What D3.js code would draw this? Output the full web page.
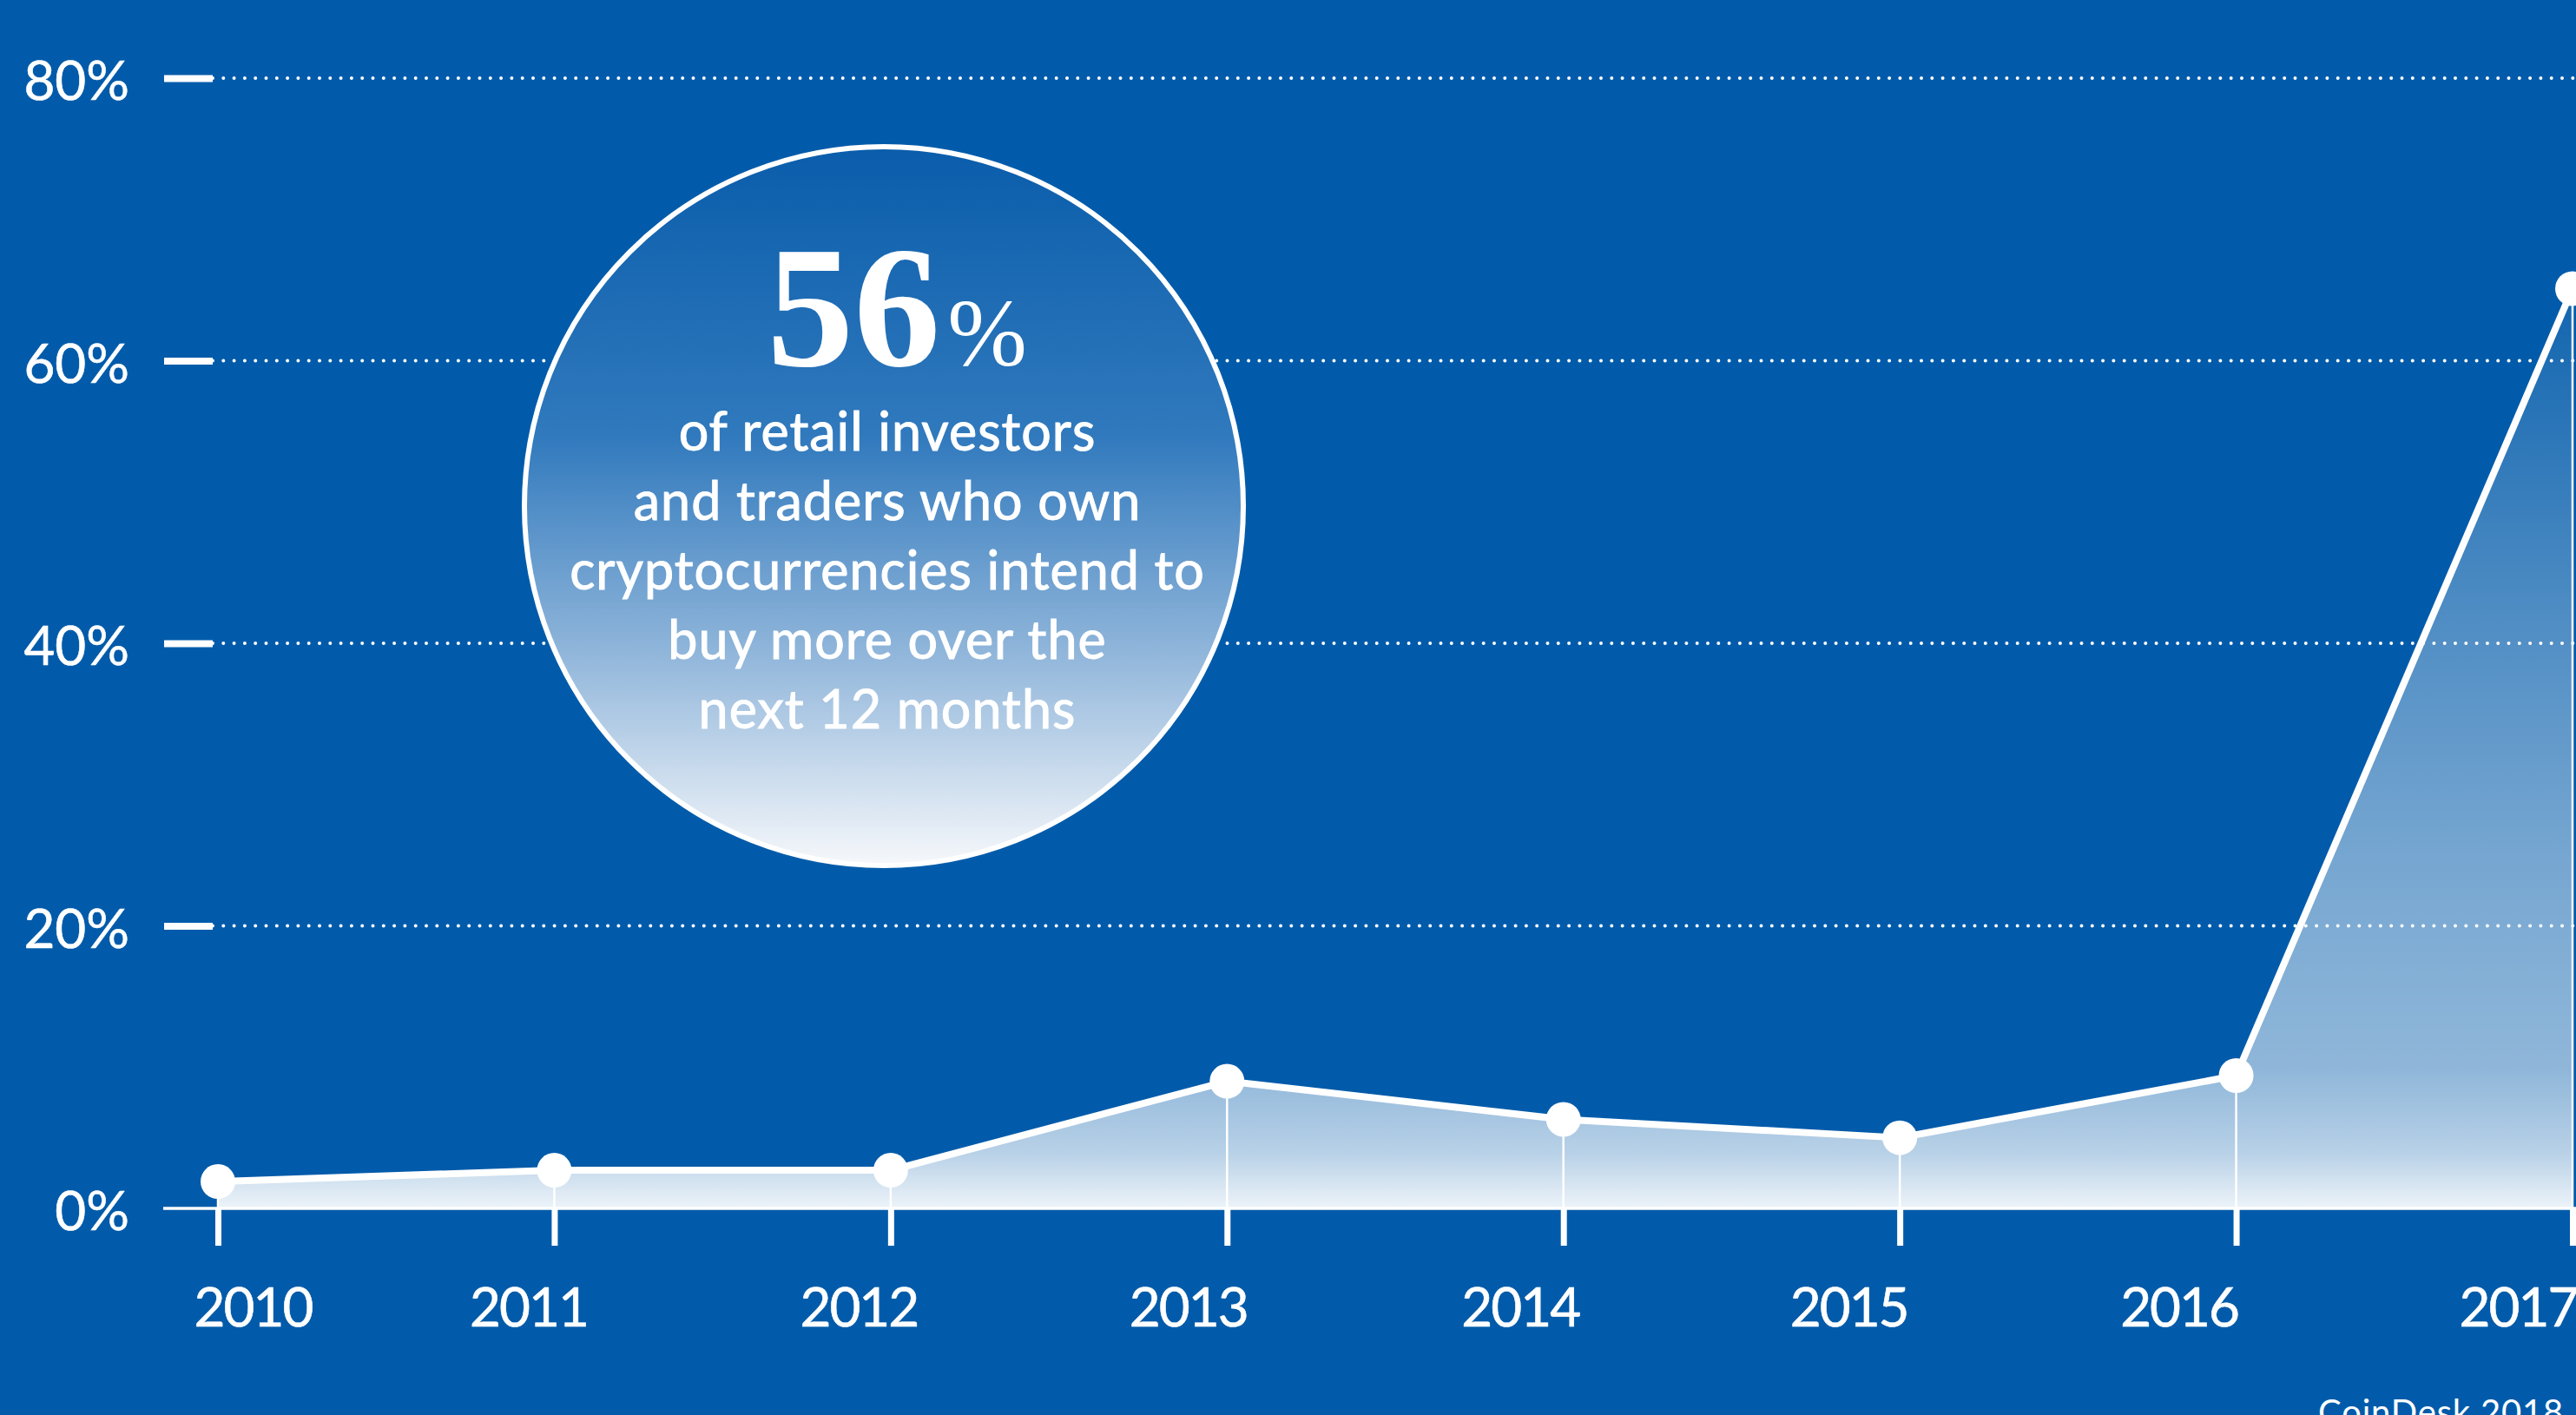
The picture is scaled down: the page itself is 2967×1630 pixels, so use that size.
<!DOCTYPE html>
<html>
<head>
<meta charset="utf-8">
<script src="https://cdn.jsdelivr.net/npm/d3@7"></script>
<style>
    html, body { margin: 0; padding: 0; background: #025baa; overflow: hidden; }
    svg { display: block; }
</style>
</head>
<body>
<svg id="chart"></svg>
<script>
// survey share per year (%)
const years = [2010, 2011, 2012, 2013, 2014, 2015, 2016, 2017]
const shares = [1.9, 2.7, 2.7, 9.0, 6.3, 5.0, 9.4, 65.1]
const yTicks = [0, 20, 40, 60, 80]
const calloutFigure = '56'
const calloutLines = [
    'of retail investors',
    'and traders who own',
    'cryptocurrencies intend to',
    'buy more over the',
    'next 12 months',
]
const sourceNote = 'CoinDesk 2018'

const width = 2967
const height = 1630
const bg = '#025baa'
const margin = { top: 90, right: 4, bottom: 238, left: 251 }
// year labels are not centred on their ticks in the original
const labelShift = { 2010: 40, 2011: -30, 2012: -37, 2013: -45, 2014: -50, 2015: -59, 2016: -66, 2017: -63 }

const data = years.map((year, i) => ({ year, value: shares[i] }))

const svg = d3.select('#chart').attr('width', width).attr('height', height)
svg.append('rect').attr('width', width).attr('height', height).attr('fill', bg)

const x = d3.scalePoint().domain(years).range([margin.left, width - margin.right])
const y = d3.scaleLinear().domain([0, 80]).range([height - margin.bottom, margin.top])

const defs = svg.append('defs')

// area fade: almost clear at the top, nearly white at the base
const areaGrad = defs.append('linearGradient')
    .attr('id', 'areaGrad')
    .attr('gradientUnits', 'userSpaceOnUse')
    .attr('x1', 0).attr('x2', 0)
    .attr('y1', y(d3.max(shares))).attr('y2', y(0))
;[[0, 0.06], [0.35, 0.3], [0.6, 0.45], [0.85, 0.56], [0.94, 0.72], [1, 0.93]].forEach(([o, a]) => {
    areaGrad.append('stop').attr('offset', o).attr('stop-color', '#fff').attr('stop-opacity', a)
})

const bubbleGrad = defs.append('linearGradient')
    .attr('id', 'bubbleGrad')
    .attr('x1', 0).attr('x2', 0).attr('y1', 0).attr('y2', 1)
;[[0, '#0a5dab'], [0.4, '#3079bd'], [0.7, '#8fb5da'], [1, '#f6f8fb']].forEach(([o, c]) => {
    bubbleGrad.append('stop').attr('offset', o).attr('stop-color', c)
})

//draw area
const area = d3.area()
    .x((d) => x(d.year))
    .y0(y(0))
    .y1((d) => y(d.value))

svg.append('path')
    .datum(data)
    .attr('fill', 'url(#areaGrad)')
    .attr('d', area)

//dotted gridlines
svg.append('g')
    .selectAll('line')
    .data(yTicks.filter((d) => d > 0))
    .enter()
    .append('line')
    .attr('x1', margin.left - 6)
    .attr('x2', width)
    .attr('y1', (d) => y(d))
    .attr('y2', (d) => y(d))
    .attr('stroke', '#fff')
    .attr('stroke-width', 4)
    .attr('stroke-linecap', 'round')
    .attr('stroke-dasharray', '0 12.3')

//y-axis
const yAxis = svg.append('g')
    .attr('transform', `translate(${margin.left - 6}, 0)`)
    .call(d3.axisLeft(y).tickValues(yTicks).tickSize(56).tickPadding(40).tickFormat((d) => d + '%'))
yAxis.select('.domain').remove()
yAxis.selectAll('line')
    .attr('stroke', '#fff')
    .attr('stroke-width', 8)
    .attr('opacity', (d) => (d === 0 ? 0 : 1))
yAxis.selectAll('text')
    .attr('fill', '#fff')
    .attr('stroke', '#fff')
    .attr('stroke-width', 0.6)
    .attr('dy', '0.4em')
    .style('font-family', 'Lato, sans-serif')
    .style('font-size', '62px')

//baseline
svg.append('line')
    .attr('x1', 188)
    .attr('x2', width)
    .attr('y1', y(0))
    .attr('y2', y(0))
    .attr('stroke', '#fff')
    .attr('stroke-width', 3.5)

//x-axis
const xAxis = svg.append('g')
    .attr('transform', `translate(0, ${y(0)})`)
    .call(d3.axisBottom(x).tickSize(43).tickFormat((d) => String(d)))
xAxis.select('.domain').remove()
xAxis.selectAll('line').attr('stroke', '#fff').attr('stroke-width', 7)
xAxis.selectAll('text')
    .attr('x', (d) => labelShift[d])
    .attr('y', 136)
    .attr('dy', 0)
    .attr('fill', '#fff')
    .attr('stroke', '#fff')
    .attr('stroke-width', 0.6)
    .attr('letter-spacing', -2)
    .style('font-family', 'Lato, sans-serif')
    .style('font-size', '62px')

//drop lines from each point
svg.append('g')
    .selectAll('line')
    .data(data)
    .enter()
    .append('line')
    .attr('x1', (d) => x(d.year))
    .attr('x2', (d) => x(d.year))
    .attr('y1', (d) => y(d.value))
    .attr('y2', y(0))
    .attr('stroke', '#fff')
    .attr('stroke-width', 2.5)

//draw line
svg.append('path')
    .datum(data)
    .attr('fill', 'none')
    .attr('stroke', '#fff')
    .attr('stroke-width', 8)
    .attr('stroke-linejoin', 'round')
    .attr('d', d3.line().x((d) => x(d.year)).y((d) => y(d.value)))

//points
svg.append('g')
    .selectAll('circle')
    .data(data)
    .enter()
    .append('circle')
    .attr('cx', (d) => x(d.year))
    .attr('cy', (d) => y(d.value))
    .attr('r', 20)
    .attr('fill', '#fff')

//callout bubble
const bubble = svg.append('g').attr('transform', 'translate(1018, 583)')
bubble.append('circle')
    .attr('r', 414)
    .attr('fill', 'url(#bubbleGrad)')
    .attr('stroke', '#fff')
    .attr('stroke-width', 6)

const figure = bubble.append('text')
    .attr('x', 15)
    .attr('y', -162)
    .attr('text-anchor', 'middle')
    .attr('fill', '#fff')
    .style('font-family', '"Liberation Serif", serif')
figure.append('tspan')
    .style('font-size', '200px')
    .style('font-weight', 'bold')
    .text(calloutFigure)
figure.append('tspan')
    .attr('dx', 8)
    .style('font-size', '110px')
    .text('%')

bubble.selectAll('.callout-line')
    .data(calloutLines)
    .enter()
    .append('text')
    .attr('class', 'callout-line')
    .attr('x', 4)
    .attr('y', (d, i) => -64 + i * 80)
    .attr('text-anchor', 'middle')
    .attr('fill', '#fff')
    .attr('stroke', '#fff')
    .attr('stroke-width', 1)
    .attr('letter-spacing', 1)
    .style('font-family', 'Lato, sans-serif')
    .style('font-size', '61px')
    .text((d) => d)

//source note, clipped by the bottom edge as in the original
svg.append('text')
    .attr('x', 2953)
    .attr('y', 1641)
    .attr('text-anchor', 'end')
    .attr('fill', '#fff')
    .attr('letter-spacing', 0.8)
    .style('font-family', 'Lato, sans-serif')
    .style('font-size', '40px')
    .text(sourceNote)
</script>
</body>
</html>
